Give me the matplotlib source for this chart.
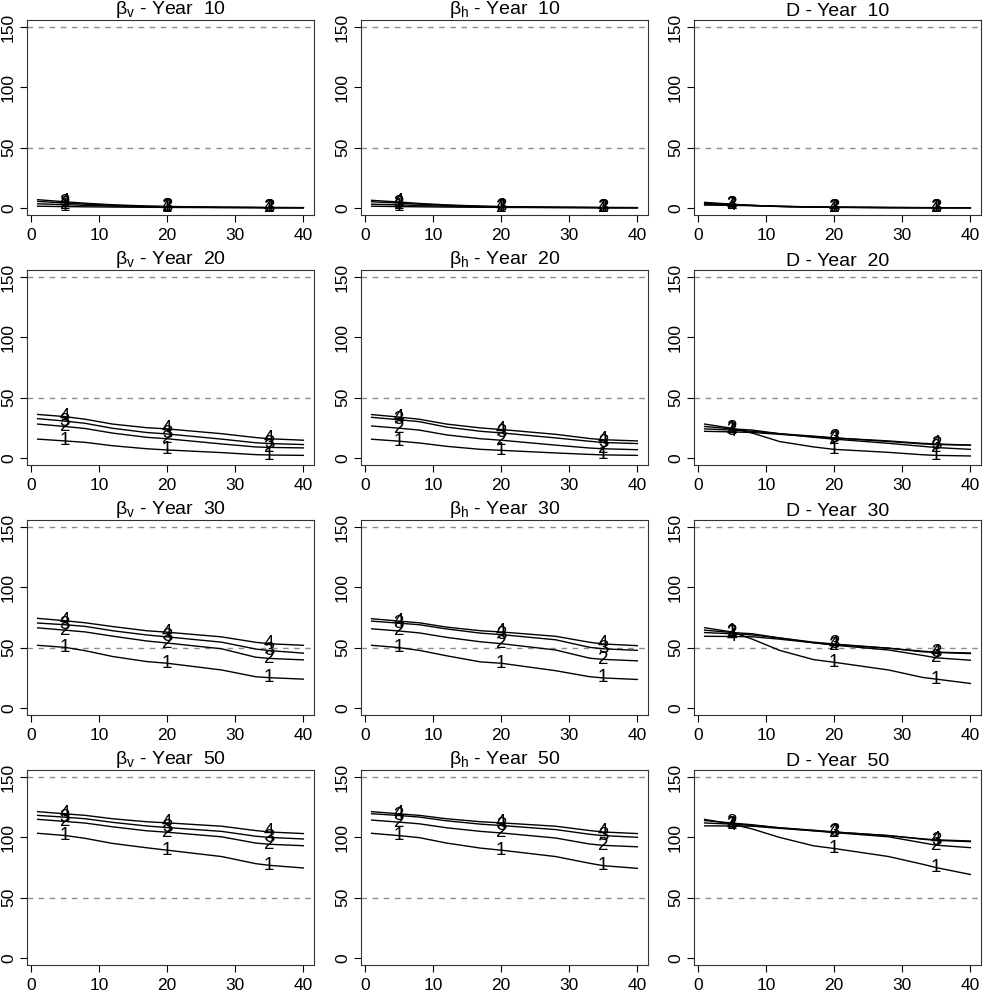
"""Grid of 4 scenario curves per parameter (beta_v, beta_h, D) and year."""

import matplotlib
matplotlib.use("Agg")
import matplotlib.pyplot as plt

plt.rcParams["font.family"] = ["Liberation Sans", "DejaVu Sans"]
plt.rcParams["mathtext.fontset"] = "custom"
plt.rcParams["mathtext.rm"] = "Liberation Sans"
plt.rcParams["mathtext.it"] = "Liberation Sans"

X = [1, 5, 8, 12, 17, 20, 28, 33, 35, 40]
LABEL_X = [5, 20, 35]
SERIES_NAMES = ["1", "2", "3", "4"]
YEARS = [10, 20, 30, 50]
PARAM_TITLES = [r"β$_{\rm v}$", r"β$_{\rm h}$", "D"]

# each panel: series 1..4
BV_Y10 = [
    [1.3, 1.0, 0.8, 0.6, 0.4, 0.3, 0.1, 0.1, 0.0, 0.0],
    [3.3, 2.6, 2.0, 1.4, 0.9, 0.7, 0.3, 0.2, 0.1, 0.1],
    [5.3, 4.0, 3.0, 2.0, 1.2, 0.9, 0.4, 0.2, 0.2, 0.1],
    [6.7, 5.0, 3.8, 2.5, 1.5, 1.1, 0.5, 0.3, 0.2, 0.1],
]
BV_Y20 = [
    [15.5, 14.0, 12.8, 10.0, 7.5, 6.5, 4.3, 2.6, 2.3, 2.0],
    [28.0, 26.0, 24.3, 20.5, 17.0, 15.8, 11.5, 9.0, 8.6, 8.2],
    [32.5, 30.5, 28.6, 24.5, 21.0, 19.8, 15.5, 12.5, 11.8, 11.0],
    [36.0, 34.2, 32.0, 28.0, 25.0, 24.0, 20.0, 16.8, 15.8, 14.6],
]
BV_Y30 = [
    [51.9, 50.2, 47.4, 42.6, 38.4, 37.0, 31.4, 25.8, 25.0, 23.8],
    [66.4, 64.5, 63.0, 59.5, 55.5, 53.8, 49.0, 42.0, 41.0, 39.8],
    [70.4, 69.0, 67.6, 64.0, 60.5, 58.9, 54.5, 48.8, 47.5, 45.4],
    [74.3, 72.3, 70.6, 67.5, 64.0, 62.8, 58.9, 54.4, 53.2, 51.9],
]
BV_Y50 = [
    [103.4, 101.6, 99.2, 95.0, 91.4, 89.4, 84.1, 78.2, 76.8, 74.6],
    [115.0, 113.3, 111.9, 108.8, 105.5, 104.3, 100.5, 95.3, 94.3, 93.1],
    [118.3, 116.8, 115.5, 112.5, 109.5, 108.2, 105.0, 101.0, 100.0, 98.7],
    [121.4, 119.6, 118.3, 115.5, 113.0, 112.1, 109.3, 105.7, 104.5, 103.2],
]

BH_Y10 = [
    [1.3, 1.0, 0.8, 0.6, 0.4, 0.3, 0.1, 0.1, 0.0, 0.0],
    [3.0, 2.4, 1.9, 1.3, 0.8, 0.6, 0.3, 0.2, 0.1, 0.1],
    [5.0, 3.9, 3.0, 2.0, 1.2, 0.9, 0.4, 0.2, 0.2, 0.1],
    [6.2, 4.8, 3.6, 2.4, 1.4, 1.0, 0.5, 0.3, 0.2, 0.1],
]
BH_Y20 = [
    [15.4, 13.8, 12.3, 9.5, 7.0, 6.2, 4.0, 2.8, 2.4, 2.0],
    [26.4, 24.6, 23.0, 19.0, 15.8, 14.6, 10.5, 8.1, 7.5, 6.7],
    [33.6, 31.6, 30.0, 25.5, 22.0, 20.7, 16.5, 13.7, 12.7, 11.8],
    [35.9, 33.8, 32.0, 28.0, 24.8, 23.5, 19.5, 16.0, 15.0, 14.0],
]
BH_Y30 = [
    [51.9, 50.0, 47.7, 43.2, 38.1, 37.0, 30.8, 25.8, 24.8, 23.5],
    [65.6, 63.8, 62.2, 58.5, 54.8, 53.3, 48.0, 41.2, 40.2, 39.0],
    [72.0, 70.3, 69.0, 65.5, 62.0, 60.8, 56.5, 50.2, 49.0, 47.7],
    [74.0, 72.0, 70.6, 67.0, 64.0, 63.0, 59.4, 54.4, 53.0, 51.6],
]
BH_Y50 = [
    [103.4, 101.5, 99.8, 95.3, 91.1, 89.4, 84.1, 78.5, 76.5, 74.3],
    [114.4, 112.7, 111.3, 108.0, 105.0, 103.7, 99.5, 94.5, 93.4, 92.2],
    [119.7, 118.2, 116.9, 113.8, 111.0, 109.9, 106.5, 102.6, 101.5, 100.1],
    [121.4, 119.6, 118.3, 115.5, 113.0, 112.1, 109.3, 105.7, 104.5, 103.2],
]

D_Y10 = [
    [4.5, 3.0, 2.0, 1.0, 0.5, 0.3, 0.1, 0.05, 0.0, 0.0],
    [3.8, 2.8, 2.0, 1.2, 0.6, 0.4, 0.2, 0.1, 0.1, 0.0],
    [3.0, 2.5, 1.9, 1.2, 0.7, 0.5, 0.2, 0.1, 0.1, 0.0],
    [2.2, 2.0, 1.7, 1.2, 0.7, 0.5, 0.2, 0.1, 0.1, 0.0],
]
D_Y20 = [
    [28.0, 24.5, 20.5, 13.5, 9.0, 7.0, 4.5, 2.5, 2.0, 1.5],
    [26.0, 24.0, 23.0, 20.0, 17.0, 15.5, 12.0, 9.5, 8.5, 7.0],
    [24.0, 23.0, 22.0, 20.0, 18.0, 16.5, 13.5, 11.5, 11.0, 10.5],
    [22.0, 21.5, 21.0, 19.5, 17.5, 16.5, 14.0, 12.0, 11.5, 10.5],
]
D_Y30 = [
    [66.5, 63.0, 57.0, 47.7, 40.0, 37.8, 31.4, 25.2, 23.8, 20.2],
    [64.5, 62.5, 61.5, 58.0, 54.0, 52.0, 48.0, 43.5, 41.5, 39.5],
    [62.5, 61.5, 60.5, 58.0, 54.5, 53.0, 49.5, 46.5, 46.0, 45.0],
    [59.4, 59.2, 59.0, 57.0, 54.0, 52.5, 49.5, 47.0, 46.2, 45.5],
]
D_Y50 = [
    [115.0, 111.0, 107.0, 100.0, 93.0, 90.8, 84.1, 77.7, 74.9, 69.2],
    [114.0, 112.0, 110.5, 108.0, 105.5, 104.0, 100.5, 95.5, 93.5, 91.5],
    [112.0, 111.0, 110.0, 108.0, 106.0, 104.5, 101.5, 98.5, 97.5, 96.5],
    [109.6, 109.5, 109.3, 107.5, 105.5, 104.5, 101.5, 98.8, 98.0, 97.0],
]

PANELS = [
    [BV_Y10, BH_Y10, D_Y10],
    [BV_Y20, BH_Y20, D_Y20],
    [BV_Y30, BH_Y30, D_Y30],
    [BV_Y50, BH_Y50, D_Y50],
]

COL_LEFT = [0.027, 0.361, 0.694]
ROW_BOTTOM = [0.785, 0.535, 0.285, 0.035]
AX_W, AX_H = 0.287, 0.195


def draw_panel(ax, series, title):
    ax.axhline(50, color="#8c8c8c", lw=1.0, ls=(0, (4, 4)))
    ax.axhline(150, color="#8c8c8c", lw=1.0, ls=(0, (4, 4)))
    for name, ys in zip(SERIES_NAMES, series):
        ax.plot(X, ys, color="black", lw=1.0)
        for lx in LABEL_X:
            ax.text(lx, ys[X.index(lx)], name, ha="center", va="center",
                    fontsize=13.5, color="black")
    ax.set_xlim(1 - 0.04 * 39, 40 + 0.04 * 39)
    ax.set_ylim(-6, 156)
    ax.set_xticks([0, 10, 20, 30, 40])
    ax.set_yticks([0, 50, 100, 150])
    ax.tick_params(labelsize=12.5, length=5, width=0.8, direction="out")
    ax.tick_params(axis="x", pad=4)
    ax.tick_params(axis="y", pad=3)
    for lab in ax.get_yticklabels():
        lab.set_rotation(90)
        lab.set_va("center")
    for sp in ax.spines.values():
        sp.set_linewidth(0.8)
        sp.set_color("#333333")
    ax.set_title(title, fontsize=14, pad=1)


def main():
    fig = plt.figure(figsize=(10, 10), dpi=100)
    for r, year in enumerate(YEARS):
        for c, pname in enumerate(PARAM_TITLES):
            ax = fig.add_axes([COL_LEFT[c], ROW_BOTTOM[r], AX_W, AX_H])
            draw_panel(ax, PANELS[r][c], f"{pname} - Year  {year}")
    fig.savefig("out.png", dpi=100)


if __name__ == "__main__":
    main()
